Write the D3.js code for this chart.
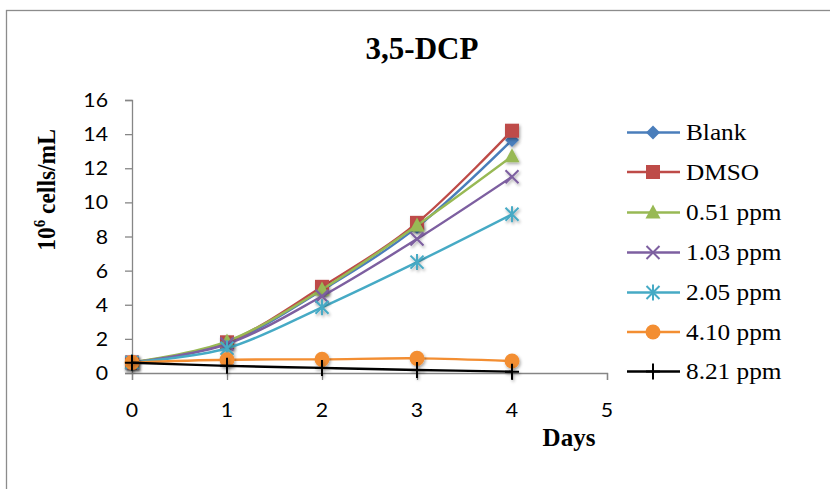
<!DOCTYPE html>
<html>
<head>
<meta charset="utf-8">
<script src="https://cdn.jsdelivr.net/npm/d3@7"></script>
<style>
  html, body { margin: 0; padding: 0; background: #fff; }
  svg { display: block; }
</style>
</head>
<body>
<svg id="chart" width="830" height="489"></svg>
<script>
// Cell density over time for each treatment
const days = [0, 1, 2, 3, 4];
const seriesNames = ["Blank", "DMSO", "0.51 ppm", "1.03 ppm", "2.05 ppm", "4.10 ppm", "8.21 ppm"];
const blank   = [0.62, 1.75, 4.85, 8.55, 13.65];
const dmso    = [0.62, 1.80, 5.05, 8.80, 14.20];
const ppm051  = [0.62, 1.85, 4.90, 8.65, 12.70];
const ppm103  = [0.62, 1.70, 4.50, 7.85, 11.50];
const ppm205  = [0.62, 1.45, 3.85, 6.50, 9.30];
const ppm410  = [0.62, 0.78, 0.80, 0.86, 0.70];
const ppm821  = [0.60, 0.42, 0.30, 0.18, 0.08];
const yTicks = [0, 2, 4, 6, 8, 10, 12, 14, 16];
const xTicks = [0, 1, 2, 3, 4, 5];

const seriesValues = [blank, dmso, ppm051, ppm103, ppm205, ppm410, ppm821];
const colors = ["#4A7EBB", "#BE4B48", "#98B954", "#7D5FA0", "#46AAC5", "#F38E32", "#000000"];
const shapes = ["diamond", "square", "triangle", "cross", "star", "circle", "plus"];

const SERIF = "'Liberation Serif', 'Times New Roman', serif";
const SANS = "Lato, 'Open Sans', sans-serif";

const svg = d3.select("#chart");

// Outer chart frame
svg.append("rect")
  .attr("x", 6.5).attr("y", 10.5)
  .attr("width", 840).attr("height", 500)
  .attr("fill", "none").attr("stroke", "#8c8c8c").attr("stroke-width", 1.3);

const defs = svg.append("defs");
const shadow = defs.append("filter").attr("id", "mshadow")
  .attr("x", "-50%").attr("y", "-50%").attr("width", "200%").attr("height", "200%");
shadow.append("feDropShadow").attr("dx", 1.2).attr("dy", 1.8)
  .attr("stdDeviation", 1.4).attr("flood-color", "#000").attr("flood-opacity", 0.35);

const x = d3.scaleLinear().domain([0, 5]).range([132, 607]);
const y = d3.scaleLinear().domain([0, 16]).range([373, 100]);

// Text that is slightly widened horizontally
function wideText(parent, tx, ty, str, opts) {
  const g = parent.append("g")
    .attr("transform", `translate(${tx},${ty}) scale(${opts.sx || 1},1)`);
  return g.append("text")
    .attr("text-anchor", opts.anchor || "start")
    .attr("font-family", opts.family)
    .attr("font-weight", opts.weight || "normal")
    .attr("font-size", opts.size)
    .attr("fill", "#000")
    .text(str);
}

// Title
svg.append("text")
  .attr("x", 422).attr("y", 59)
  .attr("text-anchor", "middle")
  .attr("font-family", SERIF)
  .attr("font-weight", "bold").attr("font-size", 31)
  .text("3,5-DCP");

// Y axis
const yAxis = d3.axisLeft(y).tickValues(yTicks).tickSize(7).tickFormat("");
const gy = svg.append("g").attr("transform", "translate(132,0)").call(yAxis);
gy.select(".domain").attr("stroke", "#868686").attr("stroke-width", 1.3);
gy.selectAll(".tick line").attr("stroke", "#868686").attr("stroke-width", 1.3);
yTicks.forEach(v => {
  wideText(svg, 108, y(v) + 7, d3.format("d")(v),
    { anchor: "end", family: SANS, size: 19, sx: 1.12 });
});

// X axis
const xAxis = d3.axisBottom(x).tickValues(xTicks).tickSize(7).tickFormat("");
const gx = svg.append("g").attr("transform", "translate(0,373)").call(xAxis);
gx.select(".domain").attr("stroke", "#868686").attr("stroke-width", 1.3);
gx.selectAll(".tick line").attr("stroke", "#868686").attr("stroke-width", 1.3);
xTicks.forEach(v => {
  wideText(svg, x(v), 417, d3.format("d")(v),
    { anchor: "middle", family: SANS, size: 19, sx: 1.12 });
});

// Axis titles
svg.append("text")
  .attr("x", 569).attr("y", 446)
  .attr("text-anchor", "middle")
  .attr("font-family", SERIF)
  .attr("font-weight", "bold").attr("font-size", 25)
  .text("Days");

const yTitle = svg.append("text")
  .attr("transform", "translate(55,190) scale(1.1,1) rotate(-90)")
  .attr("text-anchor", "middle")
  .attr("font-family", SERIF)
  .attr("font-weight", "bold").attr("font-size", 23.5);
yTitle.append("tspan").text("10");
yTitle.append("tspan").attr("dy", -9).attr("font-size", 15).text("6");
yTitle.append("tspan").attr("dy", 9).text(" cells/mL");

// Marker drawing
function drawMarker(g, shape, color) {
  if (shape === "diamond") {
    g.append("path").attr("d", "M0,-7L7,0L0,7L-7,0Z").attr("fill", color);
  } else if (shape === "square") {
    g.append("rect").attr("x", -7).attr("y", -7).attr("width", 14).attr("height", 14).attr("fill", color);
  } else if (shape === "triangle") {
    g.append("path").attr("d", "M0,-8L7.5,6L-7.5,6Z").attr("fill", color);
  } else if (shape === "cross") {
    g.append("path").attr("d", "M-6.5,-6.5L6.5,6.5M-6.5,6.5L6.5,-6.5")
      .attr("stroke", color).attr("stroke-width", 2).attr("fill", "none");
  } else if (shape === "star") {
    g.append("path").attr("d", "M-6.5,-6.5L6.5,6.5M-6.5,6.5L6.5,-6.5M0,-8L0,8")
      .attr("stroke", color).attr("stroke-width", 2).attr("fill", "none");
  } else if (shape === "circle") {
    g.append("circle").attr("r", 7.5).attr("fill", color);
  } else if (shape === "plus") {
    g.append("path").attr("d", "M-7,0L7,0M0,-8L0,8")
      .attr("stroke", color).attr("stroke-width", 2).attr("fill", "none");
  }
}

// Series lines and markers
const line = d3.line()
  .x((d, i) => x(days[i]))
  .y(d => y(d))
  .curve(d3.curveCatmullRom.alpha(0));

seriesValues.forEach((vals, s) => {
  svg.append("path")
    .datum(vals)
    .attr("d", line)
    .attr("fill", "none")
    .attr("stroke", colors[s])
    .attr("stroke-width", 2.4);
  vals.forEach((v, i) => {
    const g = svg.append("g")
      .attr("transform", `translate(${x(days[i])},${y(v)})`)
      .attr("filter", "url(#mshadow)");
    drawMarker(g, shapes[s], colors[s]);
  });
});

// Legend
const legendY = [132.5, 172, 212.5, 252.5, 292.5, 332, 371.5];
seriesNames.forEach((name, s) => {
  const ly = legendY[s];
  svg.append("line")
    .attr("x1", 627).attr("x2", 680).attr("y1", ly).attr("y2", ly)
    .attr("stroke", colors[s]).attr("stroke-width", 2.4);
  const g = svg.append("g").attr("transform", `translate(653,${ly})`);
  drawMarker(g, shapes[s], colors[s]);
  wideText(svg, 686, ly + 7.5, name, { family: SERIF, size: 23, sx: 1.1 });
});
</script>
</body>
</html>
